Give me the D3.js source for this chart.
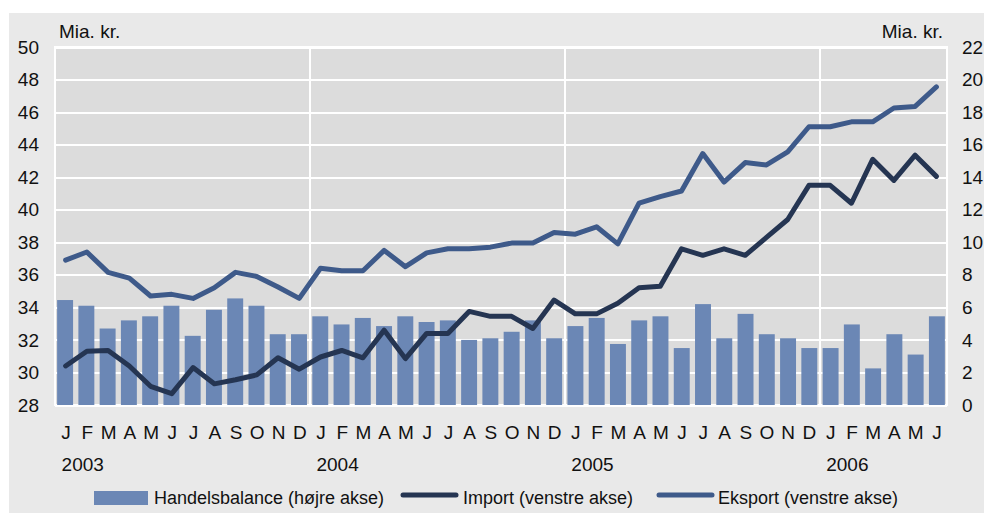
<!DOCTYPE html>
<meta charset="utf-8">
<style>
body { margin: 0; background: #fff; }
text { font-family: "Liberation Sans", Arial, sans-serif; fill: #111; }
.grid line { stroke: #fff; stroke-width: 2px; shape-rendering: crispEdges; }
.line { fill: none; stroke-width: 5px; stroke-linejoin: round; stroke-linecap: round; }
</style>
<body>
<script src="https://d3js.org/d3.v7.min.js"></script>
<script>

// categories: Jan 2003 .. Jun 2006
var years = ["2003", "2004", "2005", "2006"];
var monthLetters = ["J","F","M","A","M","J","J","A","S","O","N","D"];
var nMonthsLastYear = 6;

// Handelsbalance (right axis, bn kr.)
var balance = [6.45, 6.1, 4.7, 5.2, 5.45, 6.1, 4.25, 5.85, 6.55, 6.1, 4.35, 4.35,
               5.45, 4.95, 5.35, 4.85, 5.45, 5.1, 5.2, 4.0, 4.1, 4.5, 5.2, 4.1,
               4.85, 5.35, 3.75, 5.2, 5.45, 3.5, 6.2, 4.1, 5.6, 4.35, 4.1, 3.5,
               3.5, 4.95, 2.25, 4.35, 3.1, 5.45];

// Import (left axis)
var importVals = [30.4, 31.3, 31.35, 30.4, 29.15, 28.7, 30.3, 29.3, 29.55, 29.85, 30.9, 30.2,
                  30.95, 31.35, 30.9, 32.6, 30.85, 32.4, 32.4, 33.75, 33.45, 33.45, 32.7, 34.45,
                  33.6, 33.6, 34.25, 35.2, 35.3, 37.6, 37.2, 37.6, 37.2, 38.3, 39.4, 41.5,
                  41.5, 40.4, 43.1, 41.8, 43.35, 42.05];

// Eksport (left axis)
var exportVals = [36.9, 37.4, 36.15, 35.8, 34.7, 34.8, 34.55, 35.2, 36.15, 35.9, 35.25, 34.55,
                  36.4, 36.25, 36.25, 37.5, 36.5, 37.35, 37.6, 37.6, 37.7, 37.95, 37.95, 38.6,
                  38.5, 38.95, 37.9, 40.4, 40.8, 41.15, 43.45, 41.7, 42.9, 42.75, 43.55, 45.1,
                  45.1, 45.4, 45.4, 46.25, 46.35, 47.55];

var leftTicks = [28, 30, 32, 34, 36, 38, 40, 42, 44, 46, 48, 50];
var rightTicks = [0, 2, 4, 6, 8, 10, 12, 14, 16, 18, 20, 22];
var legendLabels = ["Handelsbalance (højre akse)", "Import (venstre akse)", "Eksport (venstre akse)"];
var unitLabel = "Mia. kr.";

// build month keys
var keys = [];
years.forEach(function(y, i) {
  var n = (i === years.length - 1) ? nMonthsLastYear : 12;
  for (var m = 0; m < n; m++) keys.push(y + "-" + m);
});

var colBar = "#6b87b5", colImport = "#253552", colExport = "#3e5a8a";

var W = 984, H = 513;
var plot = {left: 55, right: 947, top: 47, bottom: 405};

var svg = d3.select("body").append("svg")
    .attr("width", W)
    .attr("height", H);

// outer panel
svg.append("rect")
    .attr("x", 9).attr("y", 13)
    .attr("width", W - 9).attr("height", H - 13)
    .attr("fill", "#e9e9e9");

// plot area
svg.append("rect")
    .attr("x", plot.left).attr("y", plot.top)
    .attr("width", plot.right - plot.left).attr("height", plot.bottom - plot.top)
    .attr("fill", "#dcdcdc");

// scales
var x = d3.scaleBand().domain(keys).range([plot.left, plot.right]).paddingInner(0.25).paddingOuter(0.1);
var xc = d3.scalePoint().domain(keys).range([plot.left, plot.right]).padding(0.5);
var yL = d3.scaleLinear().domain([28, 50]).range([plot.bottom, plot.top]);
var yR = d3.scaleLinear().domain([0, 22]).range([plot.bottom, plot.top]);

// horizontal gridlines
svg.append("g")
    .attr("class", "grid")
    .attr("transform", "translate(" + plot.left + ",0)")
    .call(d3.axisLeft(yL).tickValues(leftTicks).tickSize(-(plot.right - plot.left)).tickFormat(""))
    .call(function(g) { g.select(".domain").remove(); });

// vertical year separators
var step = (plot.right - plot.left) / keys.length;
svg.append("g")
    .attr("class", "grid")
    .selectAll("line")
    .data(years.slice(1))
    .enter().append("line")
    .attr("x1", function(y) { return xc(y + "-0") - step / 2; })
    .attr("x2", function(y) { return xc(y + "-0") - step / 2; })
    .attr("y1", plot.top).attr("y2", plot.bottom);

// plot border
svg.append("rect")
    .attr("x", plot.left).attr("y", plot.top)
    .attr("width", plot.right - plot.left).attr("height", plot.bottom - plot.top)
    .attr("fill", "none").attr("stroke", "#fff").attr("stroke-width", 2);

// bars
svg.append("g")
  .selectAll("rect")
    .data(balance)
  .enter().append("rect")
    .attr("x", function(d, i) { return x(keys[i]); })
    .attr("width", x.bandwidth())
    .attr("y", function(d) { return yR(d); })
    .attr("height", function(d) { return yR(0) - yR(d); })
    .attr("fill", colBar);

var line = d3.line()
    .x(function(d, i) { return xc(keys[i]); })
    .y(function(d) { return yL(d); });

svg.append("path")
    .datum(importVals)
    .attr("class", "line")
    .attr("stroke", colImport)
    .attr("d", line);

svg.append("path")
    .datum(exportVals)
    .attr("class", "line")
    .attr("stroke", colExport)
    .attr("d", line);

// left axis labels
svg.append("g")
    .attr("transform", "translate(" + plot.left + ",0)")
    .call(d3.axisLeft(yL).tickValues(leftTicks).tickSize(0).tickPadding(16))
    .call(function(g) { g.select(".domain").remove(); })
    .selectAll("text")
    .style("font-size", "19px")
    .attr("font-family", null);

// right axis labels
svg.append("g")
    .attr("transform", "translate(" + plot.right + ",0)")
    .call(d3.axisRight(yR).tickValues(rightTicks).tickSize(0).tickPadding(15))
    .call(function(g) { g.select(".domain").remove(); })
    .selectAll("text")
    .style("font-size", "19px")
    .attr("font-family", null);

// month letters
svg.append("g")
    .attr("transform", "translate(0," + plot.bottom + ")")
    .call(d3.axisBottom(xc).tickSize(0).tickPadding(21)
      .tickFormat(function(k) { return monthLetters[+k.split("-")[1]]; }))
    .call(function(g) { g.select(".domain").remove(); })
    .selectAll("text")
    .style("font-size", "19px")
    .attr("font-family", null);

// years
svg.append("g")
  .selectAll("text")
    .data(years)
  .enter().append("text")
    .attr("x", function(y) { return xc(y + "-0") - 4; })
    .attr("y", 471)
    .style("font-size", "19px")
    .text(function(y) { return y; });

// unit labels
svg.append("text")
    .attr("x", 59).attr("y", 38)
    .style("font-size", "19px")
    .text(unitLabel);
svg.append("text")
    .attr("x", 943).attr("y", 38)
    .attr("text-anchor", "end")
    .style("font-size", "19px")
    .text(unitLabel);

// legend
var lg = svg.append("g");
lg.append("rect")
    .attr("x", 94).attr("y", 491).attr("width", 54).attr("height", 14)
    .attr("fill", colBar);
lg.append("text").attr("x", 154).attr("y", 504).style("font-size", "18px").text(legendLabels[0]);

lg.append("line")
    .attr("x1", 403).attr("x2", 456).attr("y1", 495).attr("y2", 495)
    .attr("stroke", colImport).attr("stroke-width", 5).attr("stroke-linecap", "round");
lg.append("text").attr("x", 463).attr("y", 504).style("font-size", "18px").text(legendLabels[1]);

lg.append("line")
    .attr("x1", 659).attr("x2", 712).attr("y1", 495).attr("y2", 495)
    .attr("stroke", colExport).attr("stroke-width", 5).attr("stroke-linecap", "round");
lg.append("text").attr("x", 718).attr("y", 504).style("font-size", "18px").text(legendLabels[2]);

</script>
</body>
